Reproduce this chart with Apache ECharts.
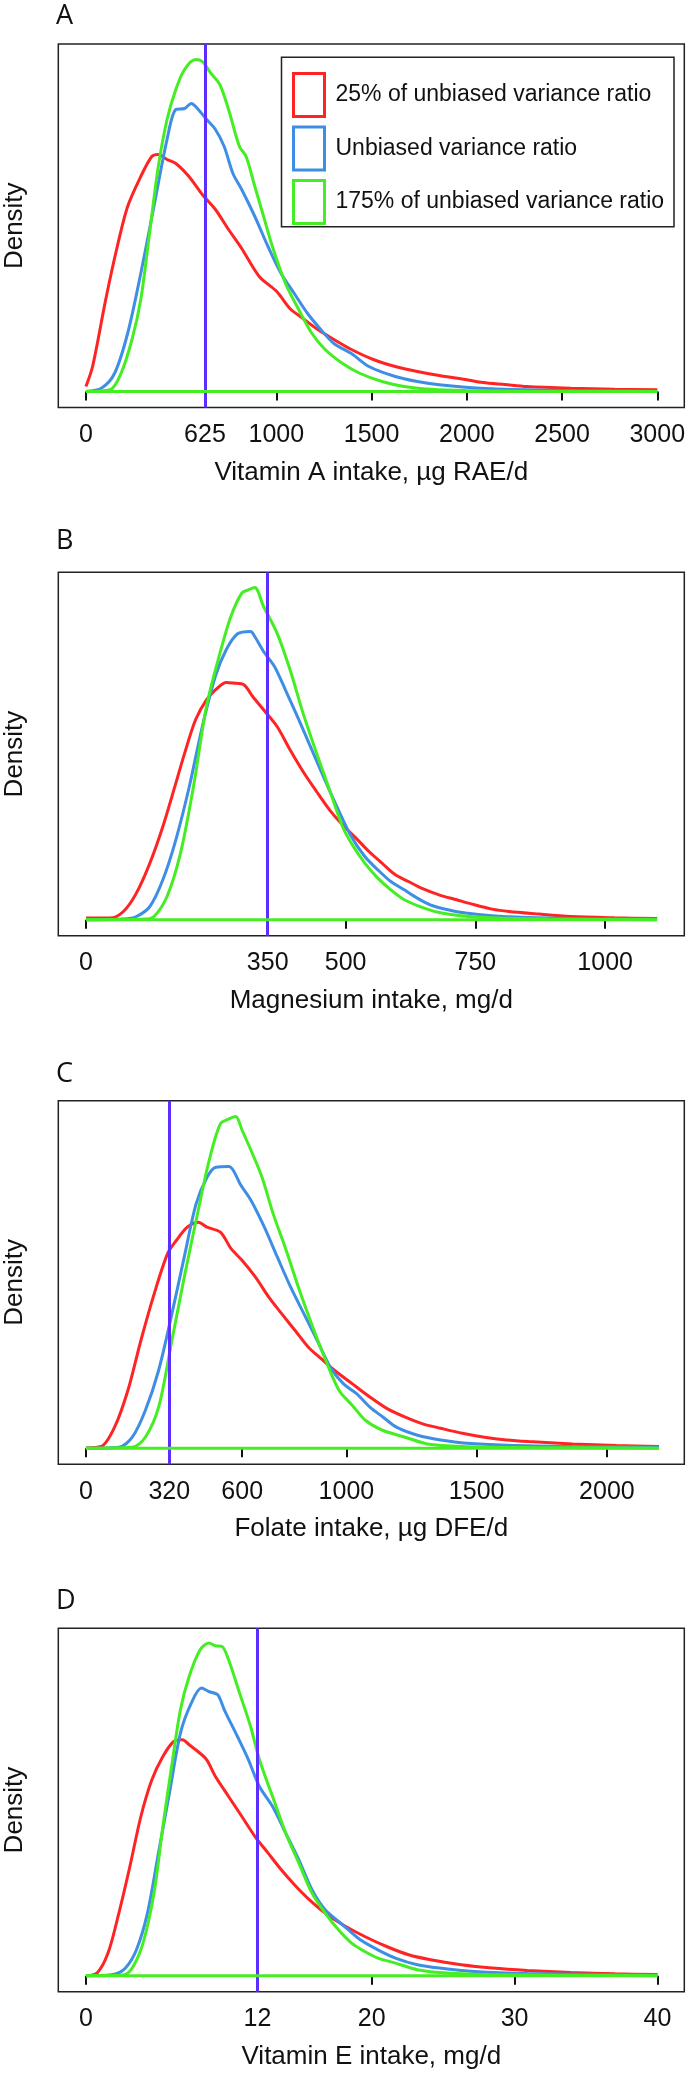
<!DOCTYPE html>
<html>
<head>
<meta charset="utf-8">
<script src="https://cdn.jsdelivr.net/npm/echarts@6/dist/echarts.min.js"></script>
<style>
  html, body { margin: 0; padding: 0; background: #fff; }
  #chart { width: 689px; height: 2075px; }
</style>
</head>
<body>
<div id="chart"></div>
<script>
// ---- Data (x = intake, y = relative density) ----
const seriesNames = ['25% of unbiased variance ratio', 'Unbiased variance ratio', '175% of unbiased variance ratio'];
const panelLetters = ['A', 'B', 'C', 'D'];
const axisTitles = ['Vitamin A intake, \u00b5g RAE/d', 'Magnesium intake, mg/d', 'Folate intake, \u00b5g DFE/d', 'Vitamin E intake, mg/d'];
const ticksA = [0, 625, 1000, 1500, 2000, 2500, 3000];
const ticksB = [0, 350, 500, 750, 1000];
const ticksC = [0, 320, 600, 1000, 1500, 2000];
const ticksD = [0, 12, 20, 30, 40];
const referenceValues = [625, 350, 320, 12];
const dataEnds = [3000, 1100, 2200, 40];

const vitA_red = [[0,5],[35,25],[104,92],[161,142],[219,185],[288,215],[346,235],[380,237],[426,232],[472,228],[541,215],[611,197],[680,182],[749,162],[818,143],[910,115],[1002,100],[1071,83],[1140,73],[1210,63],[1302,52],[1394,42],[1509,32],[1624,25],[1740,20],[1855,16],[1993,12],[2085,9],[2200,7],[2315,5],[2546,3.3],[2776,2.3],[3000,1.7]];
const vitA_blue = [[0,0],[81,3.3],[150,18],[219,58],[288,118],[357,185],[426,252],[472,282],[518,283],[553,288],[576,285],[634,272],[680,262],[726,245],[772,218],[818,202],[887,175],[956,145],[1025,118],[1094,98],[1164,78],[1233,62],[1302,48],[1394,38],[1486,25],[1624,15],[1740,10],[1855,6.7],[1993,4.3],[2200,2.3],[2546,1],[3000,0.3]];
const vitA_green = [[0,0],[127,1.7],[184,18],[242,52],[288,92],[334,158],[380,225],[426,272],[472,302],[518,322],[576,332],[611,330],[657,318],[703,307],[749,282],[806,245],[841,235],[887,205],[933,175],[979,145],[1048,108],[1117,82],[1187,58],[1256,42],[1348,28],[1440,18],[1555,10],[1670,5],[1809,2.3],[1993,1],[2315,0.3],[3000,0]];

const mg_red = [[0,1.7],[46,1.7],[72,8.3],[97,26.7],[123,56.7],[148,93.3],[173,136.7],[190,166.7],[211,200],[232,220],[253,231.7],[270,237.3],[283,236.7],[304,235],[321,223.3],[342,210],[368,193.3],[393,170],[418,148.3],[444,128.3],[469,110],[494,95],[520,81.7],[545,68.3],[570,56.7],[596,45],[621,38.3],[646,31.7],[680,25],[714,20],[748,15],[782,10.7],[815,8.3],[866,6],[934,3.3],[1018,2],[1100,1.3]];
const mg_blue = [[0,0],[72,0.7],[97,3.3],[123,13.3],[148,40],[173,80],[199,133.3],[224,193.3],[249,243.3],[270,270],[292,286],[317,288.3],[325,283.3],[342,268.3],[363,253.3],[384,230],[410,200],[435,170],[460,140],[486,110],[511,83.3],[537,63.3],[562,50],[587,38.3],[613,30],[638,21.7],[663,15],[697,10],[731,6.7],[782,4],[849,2.3],[934,1.3],[1100,0.7]];
const mg_green = [[0,0],[114,0.7],[131,3.3],[156,23.3],[182,66.7],[207,133.3],[232,213.3],[258,266.7],[279,303.3],[300,326.7],[313,330],[325,332.3],[342,313.3],[368,286.7],[393,250],[418,206.7],[444,166.7],[469,130],[494,93.3],[511,76.7],[537,56.7],[562,41.7],[587,30],[613,20],[646,12.7],[680,7.3],[722,4],[782,2],[891,0.7],[1100,0]];

const fol_red = [[0,0.3],[59,1.7],[110,21],[161,57.7],[211,107.7],[262,154.3],[313,194.3],[347,207.7],[389,221],[431,226],[465,221],[516,216],[558,199.3],[600,187.7],[651,171],[702,151],[752,134.3],[803,117.7],[854,101],[904,89.3],[955,77.7],[1023,64.3],[1091,51],[1158,39.3],[1226,31],[1293,24.3],[1361,20],[1445,15],[1530,11],[1615,8.3],[1699,6.7],[1868,4.3],[2037,2.7],[2200,1.7]];
const fol_blue = [[0,0],[127,1],[178,11],[228,37.7],[279,77.7],[330,134.3],[380,194.3],[423,244.3],[465,271],[499,281],[549,281.7],[566,277.7],[592,264.3],[634,247.7],[685,221],[735,191],[786,161],[837,134.3],[888,107.7],[938,81],[989,64.3],[1040,54.3],[1090,41],[1141,31],[1192,21],[1276,12.7],[1361,8.3],[1462,5],[1615,3],[1868,1.7],[2200,1]];
const fol_green = [[0,0],[178,1],[228,11],[279,41],[330,107.7],[380,174.3],[431,237.7],[473,287.7],[516,324.3],[549,329.3],[575,331.7],[600,317.7],[634,297.7],[676,271],[719,234.3],[769,197.7],[820,157.7],[871,121],[921,87.7],[972,57.7],[1023,42.7],[1074,27.7],[1141,17.7],[1226,11],[1310,4.3],[1445,1.7],[1699,0.7],[2200,0]];

const vitE_red = [[0,0],[0.77,2.7],[1.54,22.7],[2.30,62.7],[3.07,109.3],[3.84,159.3],[4.61,196],[5.38,219.3],[6.14,234.3],[6.76,236],[7.22,231],[7.83,224.3],[8.45,216],[9.06,199.3],[9.98,179.3],[10.91,159.3],[11.83,139.3],[12.75,122.7],[13.67,106],[14.59,91],[15.51,77.7],[16.74,62.7],[17.97,51],[19.51,39.3],[21.04,29.3],[22.58,21],[24.12,16],[26.27,11],[28.42,7.7],[30.88,5.3],[33.95,3.3],[37.02,2],[40,1.3]];
const vitE_blue = [[0,0],[2.0,1.7],[2.76,7.7],[3.53,26],[4.30,62.7],[5.07,122.7],[5.84,182.7],[6.61,242.7],[7.37,272.7],[8.08,287.7],[8.60,284.3],[9.22,281],[9.68,266],[10.60,239.3],[11.37,216],[12.14,189.3],[13.06,169.3],[13.98,142.7],[14.90,116],[15.82,86],[16.74,66],[17.97,51],[19.20,36],[20.43,26],[21.66,17.7],[23.20,11],[24.73,7.7],[27.19,4.3],[30.88,2.3],[40,0.7]];
const vitE_green = [[0,0],[2.61,0.7],[3.23,7.7],[3.99,32.7],[4.76,82.7],[5.38,149.3],[5.99,209.3],[6.61,266],[7.22,299.3],[7.99,326],[8.60,332.7],[9.06,330],[9.52,329.3],[9.98,316],[10.75,282.7],[11.52,249.3],[12.14,216],[13.06,179.3],[13.98,142.7],[14.90,112.7],[15.82,82.7],[16.74,62.7],[17.67,46],[18.59,32.7],[19.51,24.3],[20.43,17.7],[21.66,12.7],[23.20,6],[24.73,3.3],[27.80,1.3],[40,0]];

const panelCurves = [
  [vitA_red, vitA_blue, vitA_green],
  [mg_red, mg_blue, mg_green],
  [fol_red, fol_blue, fol_green],
  [vitE_red, vitE_blue, vitE_green]
];
const panelTicks = [ticksA, ticksB, ticksC, ticksD];

// ---- Layout / style ----
const FONT = '"Liberation Sans", Arial, Helvetica, sans-serif';
const colors = ['#FF2424', '#3D8EE4', '#44EE22'];
const refColor = '#5B2EFF';
const gridTops = [44, 572.3, 1100.7, 1628.3];
const labelY = [15, 539.5, 1072.5, 1600];
const xRanges = [[-145, 3142], [-53.4, 1152.4], [-106, 2297], [-1.94, 41.88]];
const GRID_LEFT = 58.3, GRID_W = 626, GRID_H = 363.5;

const grids = [], xAxes = [], yAxes = [], series = [], graphics = [];
for (let i = 0; i < 4; i++) {
  grids.push({
    left: GRID_LEFT, top: gridTops[i], width: GRID_W, height: GRID_H,
    show: true, borderColor: '#222', borderWidth: 1.5, backgroundColor: 'transparent',
    containLabel: false, outerBoundsMode: 'none'
  });
  xAxes.push({
    type: 'value', gridIndex: i, min: xRanges[i][0], max: xRanges[i][1],
    name: axisTitles[i], nameLocation: 'middle', nameGap: 52,
    nameTextStyle: { fontFamily: FONT, fontSize: 26, color: '#111' },
    axisLine: { show: false },
    axisTick: { show: true, length: 9, inside: false, customValues: panelTicks[i],
                lineStyle: { color: '#111', width: 2 } },
    axisLabel: { show: true, customValues: panelTicks[i], margin: 15,
                 formatter: v => String(v),
                 fontFamily: FONT, fontSize: 25, color: '#111' },
    splitLine: { show: false }
  });
  yAxes.push({
    type: 'value', gridIndex: i, min: -16, max: 347.5,
    name: 'Density', nameLocation: 'middle', nameGap: 30, nameRotate: 90,
    nameTextStyle: { fontFamily: FONT, fontSize: 26, color: '#111' },
    axisLine: { show: false }, axisTick: { show: false }, axisLabel: { show: false },
    splitLine: { show: false }
  });
  for (let k = 0; k < 3; k++) {
    series.push({
      type: 'line', name: seriesNames[k], xAxisIndex: i, yAxisIndex: i,
      data: panelCurves[i][k], showSymbol: false, symbol: 'none', smooth: 0.3,
      lineStyle: { color: colors[k], width: 3 }, itemStyle: { color: colors[k] },
      emphasis: { disabled: true }, z: 2 + k
    });
  }
  series.push({
    type: 'line', name: 'baseline', xAxisIndex: i, yAxisIndex: i,
    data: [[0, 0], [dataEnds[i], 0]], showSymbol: false, symbol: 'none',
    lineStyle: { color: colors[2], width: 3 }, itemStyle: { color: colors[2] },
    emphasis: { disabled: true }, z: 6,
    markLine: {
      silent: true, symbol: ['none', 'none'], label: { show: false },
      lineStyle: { color: refColor, width: 3, type: 'solid' },
      emphasis: { disabled: true },
      data: [{ xAxis: referenceValues[i] }]
    }
  });
  graphics.push({
    type: 'text', left: 56, top: labelY[i] - 12, silent: true,
    style: { text: panelLetters[i], font: '27px "Open Sans", "DejaVu Sans", sans-serif', fill: '#111' }
  });
}
// legend frame
graphics.push({
  type: 'rect', silent: true, shape: { x: 281.5, y: 57.3, width: 392.5, height: 169.4 },
  style: { fill: 'none', stroke: '#222', lineWidth: 1.5 }
});

const chart = echarts.init(document.getElementById('chart'), null, { renderer: 'canvas' });
chart.setOption({
  animation: false,
  backgroundColor: '#fff',
  grid: grids, xAxis: xAxes, yAxis: yAxes, series: series,
  legend: {
    orient: 'vertical', left: 292, top: 72, padding: 0,
    itemWidth: 31, itemHeight: 43, itemGap: 7.5, selectedMode: false,
    textStyle: { fontFamily: FONT, fontSize: 23, color: '#111', padding: [0, 0, 0, 6] },
    data: seriesNames.map((n, k) => ({
      name: n, icon: 'rect',
      itemStyle: { color: 'rgba(0,0,0,0)', borderColor: colors[k], borderWidth: 3 }
    }))
  },
  graphic: graphics
});
</script>
</body>
</html>
